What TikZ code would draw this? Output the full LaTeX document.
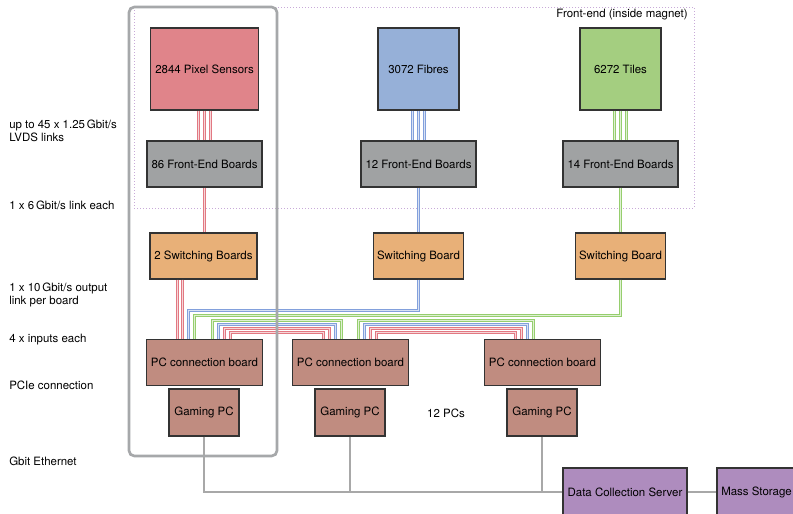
\documentclass[tikz,border=0pt]{standalone}
\usepackage{fontspec}
\setmainfont{TeX Gyre Heros}
\usetikzlibrary{calc}

\definecolor{sensred}{RGB}{224,132,138}
\definecolor{fibblue}{RGB}{150,176,216}
\definecolor{tilgreen}{RGB}{164,206,128}
\definecolor{febgrey}{RGB}{160,162,163}
\definecolor{sworange}{RGB}{232,176,120}
\definecolor{pcbrown}{RGB}{192,140,128}
\definecolor{srvpurple}{RGB}{174,140,190}
\definecolor{linkred}{RGB}{226,120,130}
\definecolor{linkblue}{RGB}{130,160,220}
\definecolor{linkgreen}{RGB}{150,206,110}
\definecolor{ethgrey}{RGB}{168,168,168}
\definecolor{framegrey}{RGB}{166,168,170}
\definecolor{fedotted}{RGB}{200,170,216}

\begin{document}
\begin{tikzpicture}[x=0.75pt,y=-0.75pt,
  font=\fontsize{8.6pt}{9.75pt}\selectfont,
  box/.style={draw=black!80, line width=0.8pt, inner sep=0pt, align=center},
  sz/.style 2 args={minimum width=#1*0.75pt, minimum height=#2*0.75pt},
  % a link is a coloured stroke with a pale core
  link/.style={draw=#1, line width=2.25pt,
    postaction={draw=#1!30, line width=0.75pt}},
  redlink/.style={link=linkred},
  bluelink/.style={link=linkblue},
  greenlink/.style={link=linkgreen},
  eth/.style={draw=ethgrey, line width=1.5pt},
  lbl/.style={anchor=west, inner sep=0pt, align=left}]

\clip (0,0) rectangle (793,514);
\fill[white] (0,0) rectangle (793,514);

% front-end region
\draw[fedotted, line width=0.75pt, dash pattern=on 0.75pt off 1.5pt]
  (134,7) rectangle (694,208);
\node[anchor=east, inner sep=0pt] (fetitle) at (688,15) {Front-end (inside magnet)};

% detectors
\node[box, fill=sensred,  sz={108}{82}] (pix) at (204.5,69) {2844 Pixel Sensors};
\node[box, fill=fibblue,  sz={81}{82}]  (fib) at (418.5,69) {3072 Fibres};
\node[box, fill=tilgreen, sz={81}{82}]  (til) at (620.5,69) {6272 Tiles};

% front-end boards
\node[box, fill=febgrey, sz={115}{46}] (feb1) at (204.5,164) {86 Front-End Boards};
\node[box, fill=febgrey, sz={115}{46}] (feb2) at (418.5,164) {12 Front-End Boards};
\node[box, fill=febgrey, sz={115}{46}] (feb3) at (620.5,164) {14 Front-End Boards};

% switching boards
\node[box, fill=sworange, sz={107}{46}] (sw1) at (203.5,256) {2 Switching Boards};
\node[box, fill=sworange, sz={90}{46}]  (sw2) at (418.5,256) {Switching Board};
\node[box, fill=sworange, sz={90}{46}]  (sw3) at (620.5,256) {Switching Board};

% PC connection boards and PCs
\node[box, fill=pcbrown, sz={116}{46}] (pcb1) at (204.5,362.5) {PC connection board};
\node[box, fill=pcbrown, sz={116}{46}] (pcb2) at (350.5,362.5) {PC connection board};
\node[box, fill=pcbrown, sz={116}{46}] (pcb3) at (542.5,362.5) {PC connection board};
\node[box, fill=pcbrown, sz={70}{47}] (gpc1) at (204,412.5) {Gaming PC};
\node[box, fill=pcbrown, sz={70}{47}] (gpc2) at (350,412.5) {Gaming PC};
\node[box, fill=pcbrown, sz={70}{47}] (gpc3) at (542,412.5) {Gaming PC};
\node[inner sep=0pt] (npcs) at (446,413) {12 PCs};

% servers
\node[box, fill=srvpurple, sz={124}{48}] (dcs) at (625,492)   {Data Collection Server};
\node[box, fill=srvpurple, sz={79}{48}]  (ms)  at (756.5,492) {Mass Storage};

% link annotations
\node[lbl] (t1) at (9,131) {up to 45 x 1.25\,Gbit/s\\LVDS links};
\node[lbl] (t2) at (9,205) {1 x 6\,Gbit/s link each};
\node[lbl] (t3) at (9,295) {1 x 10\,Gbit/s output\\link per board};
\node[lbl] (t4) at (9,340) {4 x inputs each};
\node[lbl] (t5) at (9,385) {PCIe connection};
\node[lbl] (t6) at (9,461) {Gbit Ethernet};

% LVDS links
\foreach \d in {-6,0,6}{
  \draw[redlink]   ($(pix.south)+(\d,0)$) coordinate (p) -- (p |- feb1.north);
  \draw[bluelink]  ($(fib.south)+(\d,0)$) coordinate (p) -- (p |- feb2.north);
  \draw[greenlink] ($(til.south)+(\d,0)$) coordinate (p) -- (p |- feb3.north);
}

% 6 Gbit/s links
\draw[redlink]   (feb1.south) -- (feb1.south |- sw1.north);
\draw[bluelink]  (feb2.south) -- (sw2.north);
\draw[greenlink] (feb3.south) -- (sw3.north);

% 10 Gbit/s outputs
\draw[redlink] ($(sw1.south)+(-26,0)$) coordinate (p) -- (p |- pcb1.north);
\draw[redlink] ($(sw1.south)+(-21,0)$) coordinate (p) -- (p |- pcb1.north);
\draw[bluelink]  (sw2.south) -- ++(0,30.5) -| ($(pcb1.north)+(-16,0)$);
\draw[greenlink] (sw3.south) -- ++(0,35.5) -| ($(pcb1.north)+(-10,0)$);

% forwarding between PC connection boards
\foreach \a/\b in {pcb1/pcb2, pcb2/pcb3}{
  \draw[greenlink] ($(\a.north)+(8,0)$)  -- ++(0,-18) -| ($(\b.north)+(-9,0)$);
  \draw[bluelink]  ($(\a.north)+(14,0)$) -- ++(0,-14) -| ($(\b.north)+(-15,0)$);
  \draw[redlink]   ($(\a.north)+(20,0)$) -- ++(0,-10) -| ($(\b.north)+(-21,0)$);
  \draw[redlink]   ($(\a.north)+(26,0)$) -- ++(0,-6)  -| ($(\b.north)+(-27,0)$);
}

% Ethernet
\draw[eth] (gpc1.south) |- (dcs.west);
\draw[eth] (gpc2.south) -- (gpc2.south |- dcs.west);
\draw[eth] (gpc3.south) -- (gpc3.south |- dcs.west);
\draw[eth] (dcs.east) -- (ms.west);

% pixel slice frame
\draw[framegrey, line width=2pt, rounded corners=4pt] (129,7) rectangle (277,456);
\end{tikzpicture}
\end{document}
